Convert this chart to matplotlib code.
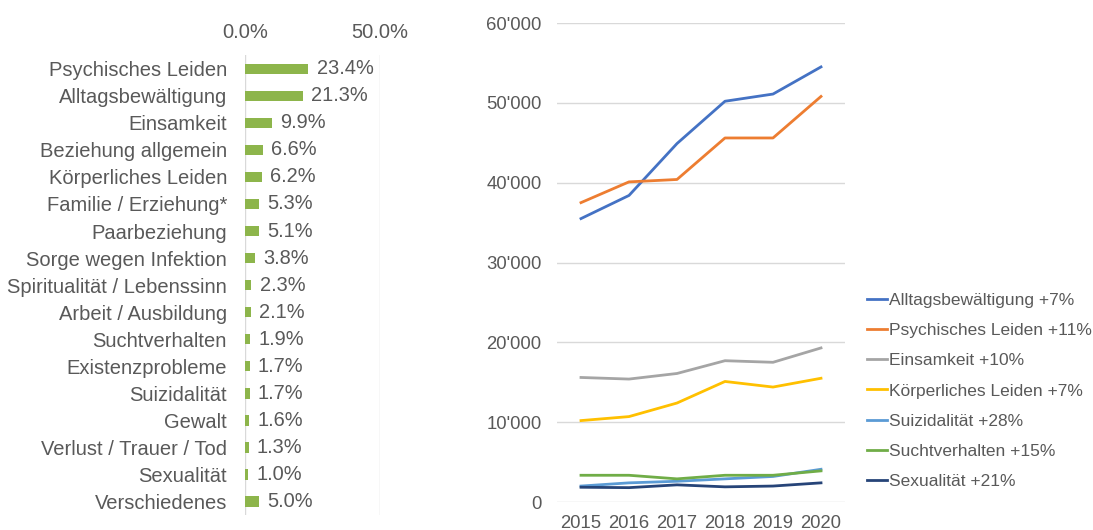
import matplotlib.pyplot as plt
from matplotlib.ticker import FuncFormatter

plt.rcParams['font.family'] = ['Liberation Sans', 'DejaVu Sans']

# left: share of topics
topics = ["Psychisches Leiden", "Alltagsbewältigung", "Einsamkeit", "Beziehung allgemein",
          "Körperliches Leiden", "Familie / Erziehung*", "Paarbeziehung", "Sorge wegen Infektion",
          "Spiritualität / Lebenssinn", "Arbeit / Ausbildung", "Suchtverhalten", "Existenzprobleme",
          "Suizidalität", "Gewalt", "Verlust / Trauer / Tod", "Sexualität", "Verschiedenes"]
shares = [23.4, 21.3, 9.9, 6.6, 6.2, 5.3, 5.1, 3.8, 2.3, 2.1, 1.9, 1.7, 1.7, 1.6, 1.3, 1.0, 5.0]

# right: calls per year
years = [2015, 2016, 2017, 2018, 2019, 2020]
alltag = [35500, 38400, 44900, 50200, 51100, 54500]
psych = [37500, 40100, 40400, 45600, 45600, 50800]
einsam = [15600, 15400, 16100, 17700, 17500, 19300]
koerper = [10200, 10700, 12400, 15100, 14400, 15500]
suizid = [2000, 2400, 2600, 2900, 3200, 4100]
sucht = [3350, 3350, 2900, 3350, 3350, 3900]
sexual = [1850, 1800, 2150, 1900, 2000, 2400]
series_labels = ["Alltagsbewältigung +7%", "Psychisches Leiden +11%", "Einsamkeit +10%",
                 "Körperliches Leiden +7%", "Suizidalität +28%", "Suchtverhalten +15%",
                 "Sexualität +21%"]
series_colors = ['#4472C4', '#ED7D31', '#A5A5A5', '#FFC000', '#5B9BD5', '#70AD47', '#264478']

txt = '#595959'
grid = '#D9D9D9'

fig = plt.figure(figsize=(10.93, 5.30), dpi=100)

ax1 = fig.add_axes([0.2242, 0.028, 0.1235, 0.868])
ypos = range(len(topics))
ax1.barh(ypos, shares, height=0.38, color='#8DB54B', zorder=3)
for y, v in zip(ypos, shares):
    ax1.annotate("{:.1f}%".format(v), (v, y), xytext=(6, 0), textcoords='offset points',
                 va='center', ha='left', fontsize=14.4, color=txt)
ax1.set_ylim(len(topics) - 0.5, -0.5)
ax1.set_xlim(0, 50)
ax1.set_xticks([0, 50])
ax1.xaxis.set_major_formatter(FuncFormatter(lambda v, p: "{:.1f}%".format(v)))
ax1.xaxis.tick_top()
ax1.set_yticks(list(ypos))
ax1.set_yticklabels(topics)
ax1.tick_params(axis='both', length=0, labelsize=14.5, labelcolor=txt)
ax1.tick_params(axis='x', pad=9.5)
ax1.tick_params(axis='y', pad=13)
ax1.grid(axis='x', color=grid, linewidth=1, zorder=0)
for s in ax1.spines.values():
    s.set_visible(False)

ax2 = fig.add_axes([0.5096, 0.0528, 0.2635, 0.9038])
data = [alltag, psych, einsam, koerper, suizid, sucht, sexual]
xs = range(len(years))
for vals, lab, col in zip(data, series_labels, series_colors):
    ax2.plot(xs, vals, color=col, linewidth=2.0, label=lab)
ax2.set_xlim(-0.5, len(years) - 0.5)
ax2.set_xticks(list(xs))
ax2.set_xticklabels([str(y) for y in years])
ax2.set_ylim(0, 60000)
ax2.set_yticks(range(0, 60001, 10000))
ax2.yaxis.set_major_formatter(FuncFormatter(lambda v, p: "{:,.0f}".format(v).replace(",", "'")))
ax2.tick_params(axis='both', length=0, labelsize=13.3, labelcolor=txt)
ax2.tick_params(axis='y', pad=11)
ax2.tick_params(axis='x', pad=9)
ax2.grid(axis='y', color=grid, linewidth=1)
ax2.set_axisbelow(True)
for s in ax2.spines.values():
    s.set_visible(False)

fig.legend(loc='upper left', bbox_to_anchor=(0.7865, 0.46), frameon=False, fontsize=12.5,
           labelcolor=txt, handlelength=1.2, handletextpad=0.1, labelspacing=0.86, borderaxespad=0)

fig.savefig('out.png', dpi=100)
